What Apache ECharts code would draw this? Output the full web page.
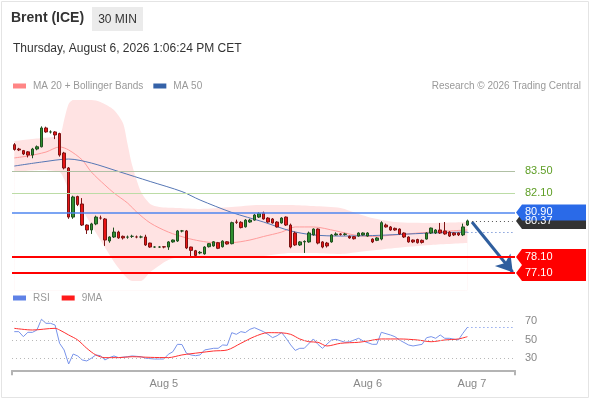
<!DOCTYPE html>
<html><head><meta charset="utf-8">
<script src="https://cdn.jsdelivr.net/npm/echarts/dist/echarts.min.js"></script>
<style>html,body{margin:0;padding:0;background:#fff}#c{width:590px;height:400px}</style>
</head><body><div id="c"></div>
<script>
// ---- data ----
const slotCount = 111;                       // 30-min slots on the x axis (incl. empty future slots)
const dateTicks = {33:'Aug 5', 78:'Aug 6', 101:'Aug 7'};
// [open, close, low, high]
const candles = [
[85.15,84.85,84.78,85.25],[84.88,84.82,84.75,84.95],[84.78,84.57,84.50,84.82],[84.70,84.50,84.35,84.75],
[84.50,84.88,84.30,84.95],[84.88,85.02,84.80,85.10],[85.02,86.20,84.98,86.30],[86.20,85.95,85.90,86.28],
[85.95,85.95,85.85,86.05],[85.95,85.76,85.50,86.00],[85.85,84.50,84.40,85.90],[84.63,83.69,83.60,84.70],
[83.69,80.61,80.50,83.75],[80.61,81.87,80.50,81.95],[81.90,81.40,81.30,81.95],[81.43,80.11,80.05,81.80],
[80.11,79.80,79.55,80.15],[79.80,80.18,79.55,80.25],[80.18,80.61,80.10,80.70],[80.55,80.55,80.45,80.70],
[80.49,79.17,78.80,80.55],[79.11,79.36,79.00,79.40],[79.36,79.67,79.30,79.95],[79.67,79.30,79.25,79.75],
[79.40,79.30,79.20,79.45],[79.35,79.35,79.25,79.45],[79.40,79.40,79.30,79.50],[79.36,79.36,79.28,79.45],
[79.36,79.36,79.28,79.45],[79.36,78.86,78.80,79.50],[78.98,78.73,78.68,79.00],[78.73,78.73,78.68,78.78],
[78.73,78.73,78.68,78.78],[78.75,78.73,78.65,78.78],[78.73,79.05,78.55,79.10],[79.05,79.17,79.00,79.20],
[79.11,79.74,79.05,79.80],[79.74,79.74,79.65,79.80],[79.74,78.67,78.60,79.80],[78.73,78.52,78.16,78.75],
[78.50,78.20,78.15,78.55],[78.36,78.40,78.28,78.48],[78.30,78.73,78.25,78.78],[78.75,78.94,78.70,78.98],
[78.80,79.06,78.75,79.10],[79.00,78.65,78.60,79.05],[78.75,79.10,78.70,79.15],[79.06,78.92,78.88,79.10],
[78.94,80.26,78.90,80.32],[80.30,80.28,80.18,80.45],[80.28,79.95,79.90,80.35],[80.00,80.42,79.95,80.48],
[80.30,80.42,80.25,80.50],[80.42,80.74,80.38,80.80],[80.61,80.83,80.55,80.92],[80.86,80.49,80.45,80.95],
[80.55,80.30,80.25,80.60],[80.49,80.24,80.20,80.55],[80.30,79.99,79.95,80.35],[80.24,80.55,80.20,80.60],
[80.61,80.11,80.05,80.65],[80.11,78.73,78.65,80.20],[79.61,78.86,78.80,79.70],[78.86,79.05,78.80,79.10],
[79.05,79.08,78.36,79.15],[79.05,79.61,79.00,79.70],[79.49,79.86,79.45,79.90],[79.86,78.98,78.90,79.90],
[79.05,78.73,78.65,79.10],[78.98,78.80,78.70,79.05],[79.05,79.49,79.00,79.55],[79.49,79.55,79.45,79.65],
[79.55,79.52,79.45,79.60],[79.52,79.55,79.45,79.62],[79.40,79.30,79.25,79.45],[79.38,79.25,79.20,79.42],
[79.42,79.61,79.38,79.65],[79.49,79.61,79.45,79.65],[79.42,79.61,79.38,79.66],[79.23,79.05,78.98,79.28],
[79.15,79.30,79.10,79.35],[79.23,80.26,79.15,80.35],[80.11,79.99,79.95,80.20],[79.99,79.80,79.75,80.05],
[79.90,79.80,79.75,79.95],[79.86,79.55,79.50,79.90],[79.61,79.36,79.30,79.65],[79.36,79.05,79.00,79.40],
[79.17,79.05,78.98,79.20],[79.20,79.00,78.95,79.25],[79.15,79.02,78.95,79.20],[79.23,79.61,79.20,79.65],
[79.61,79.92,79.55,79.95],[79.61,79.80,79.55,79.85],[79.80,79.61,79.55,80.24],[79.74,79.55,79.50,80.30],
[79.67,79.42,79.36,79.72],[79.61,79.49,79.42,79.65],[79.61,79.49,79.42,79.65],[79.49,79.99,79.42,80.20],
[80.11,80.37,80.05,80.45]
];
const ma20 = [[0,84.32],[3,84.44],[7,84.69],[10,85.01],[12,84.82],[15,84.19],[17,83.44],[20,82.62],[22,82.12],[25,81.49],[27,80.93],[30,80.24],[34,79.67],[38,79.30],[41,79.11],[44,79.01],[48,79.01],[52,79.17],[55,79.39],[59,79.67],[62,79.99],[66,79.99],[71,79.74],[75,79.49],[79,79.39],[84,79.49],[92,79.67],[100,79.80]];
const ma50 = [[0,83.81],[6,84.06],[12,84.25],[17,84.00],[23,83.47],[30,82.84],[37,82.21],[41,81.68],[48,80.90],[55,80.30],[61,79.74],[66,79.49],[72,79.42],[79,79.45],[85,79.52],[92,79.61],[100,79.67]];
const bbUpper = [[0,85.38],[6,85.57],[10,85.76],[11,86.70],[12,87.70],[13,87.95],[17,87.95],[19,87.83],[22,87.33],[24,86.50],[25,85.20],[26,83.88],[28,82.18],[30,81.43],[32,81.24],[36,81.18],[41,81.12],[48,81.24],[54,81.37],[61,81.37],[66,81.30],[72,81.18],[76,80.80],[79,80.55],[84,80.30],[92,80.24],[100,80.30]];
const bbLower = [[0,83.44],[6,83.56],[10,83.44],[11,83.00],[12,82.31],[13,81.68],[15,81.05],[19,79.17],[23,77.41],[26,76.60],[28,76.60],[30,77.16],[34,77.92],[38,78.17],[41,78.17],[48,78.04],[55,78.17],[61,78.36],[66,78.36],[72,78.30],[76,78.42],[84,78.67],[92,78.86],[100,78.98]];
const rsi = [[0,58.8],[1,58.8],[2,53.4],[3,58.1],[4,58.0],[5,60.6],[6,72.2],[7,67.8],[8,67.8],[9,66.0],[10,46.2],[11,39.0],[12,23.8],[13,34.6],[14,32.5],[15,28.2],[16,27.1],[17,30.0],[18,33.6],[19,32.8],[20,28.2],[21,30.7],[22,32.5],[23,30.7],[25,31.7],[26,32.5],[28,31.7],[29,30.0],[31,29.2],[32,29.2],[33,29.2],[34,34.3],[35,37.1],[36,45.1],[37,44.9],[38,35.4],[39,33.6],[40,32.8],[41,33.6],[42,39.0],[44,40.8],[45,40.8],[46,44.4],[47,44.0],[48,57.7],[49,55.9],[50,58.8],[51,57.8],[52,61.3],[53,63.1],[55,58.8],[56,55.9],[57,52.3],[58,54.4],[59,57.8],[60,51.6],[61,44.4],[62,38.5],[63,40.8],[64,40.8],[66,50.9],[67,45.1],[68,40.8],[70,49.8],[71,50.5],[73,47.3],[74,47.9],[76,51.6],[77,48.7],[79,45.1],[80,45.1],[81,58.1],[83,55.2],[84,53.4],[85,49.8],[87,44.4],[88,43.3],[90,45.1],[91,52.3],[92,53.4],[93,51.6],[94,55.2],[95,51.6],[96,51.6],[98,49.8],[99,57.0],[100,63.5]];
const rsiMA = [[0,62.4],[4,60.6],[9,62.4],[10,60.6],[12,55.2],[14,49.8],[16,40.8],[18,33.6],[20,30.7],[23,30.7],[26,31.7],[30,31.0],[34,30.7],[37,33.6],[41,36.1],[44,37.9],[47,39.0],[50,46.2],[53,53.4],[56,57.7],[59,57.5],[61,55.9],[63,50.9],[65,47.9],[67,47.3],[69,43.3],[72,46.2],[76,47.3],[78,48.7],[81,50.9],[85,50.9],[89,49.8],[92,47.9],[95,49.8],[98,50.9],[100,53.4]];
const levelsGreen = [83.50, 82.10];
const resistance = 80.90;
const lastPrice = 80.37;
const supports = [78.10, 77.10];
const rsiLevels = [70, 50, 30];
const arrowFrom = [101, 80.30], arrowTo = [110, 77.15];

// ---- layout ----
const FONT = "'Liberation Sans', Arial, sans-serif";
const GL = 12, GW = 503;
const categories = Array.from({length: slotCount}, (_, i) => String(i));
const lastIdx = candles.length - 1;
const lastMa50 = ma50[ma50.length - 1][1];
const lastRsi = rsi[rsi.length - 1][1];

const chart = echarts.init(document.getElementById('c'), null, {renderer: 'canvas'});
const option = {
  animation: false,
  textStyle: {fontFamily: FONT},
  grid: [
    {left: GL, width: GW, top: 91.3, height: 199.25, outerBoundsMode: 'none'},
    {left: GL, width: GW, top: 302.8, height: 67.5, outerBoundsMode: 'none'}
  ],
  legend: [
    {data: ['MA 20 + Bollinger Bands', 'MA 50'], left: 13, top: 81, padding: 0, icon: 'rect', itemWidth: 13, itemHeight: 5, itemGap: 10,
     selectedMode: false, textStyle: {color: '#999', fontSize: 10, fontFamily: FONT, padding: [0,0,0,2]}},
    {data: ['RSI', '9MA'], left: 13, top: 293, padding: 0, icon: 'rect', itemWidth: 13, itemHeight: 5, itemGap: 12,
     selectedMode: false, textStyle: {color: '#999', fontSize: 10, fontFamily: FONT, padding: [0,0,0,2]}}
  ],
  xAxis: [
    {type: 'category', gridIndex: 0, data: categories, boundaryGap: true, show: false},
    {type: 'category', gridIndex: 1, data: categories, boundaryGap: true,
     axisLine: {show: true, lineStyle: {color: '#b4b4b4', width: 2}},
     axisTick: {show: false},
     axisLabel: {interval: (i) => dateTicks[i] !== undefined, formatter: (v, i) => dateTicks[i] || '',
                 color: '#888', fontSize: 11, margin: 8, fontFamily: FONT}}
  ],
  yAxis: [
    {type: 'value', gridIndex: 0, min: 76, max: 88.5, show: false, splitLine: {show: false}},
    {type: 'value', gridIndex: 1, min: 17, max: 90, show: false, splitLine: {show: false}}
  ],
  series: [
    {name: 'BB upper', type: 'line', xAxisIndex: 0, yAxisIndex: 0, data: bbUpper, smooth: 0.25, symbol: 'none',
     lineStyle: {width: 0}, areaStyle: {color: '#ffe3e3', opacity: 1, origin: 'start'}, z: 1, silent: true},
    {name: 'BB lower', type: 'line', xAxisIndex: 0, yAxisIndex: 0, data: bbLower, smooth: 0.25, symbol: 'none',
     lineStyle: {width: 0}, areaStyle: {color: '#ffffff', opacity: 1, origin: 'start'}, z: 1, silent: true},
    {name: 'MA 20 + Bollinger Bands', type: 'line', xAxisIndex: 0, yAxisIndex: 0, data: ma20, smooth: 0.3, symbol: 'none',
     color: '#ff8585', lineStyle: {color: '#ff9c9c', width: 1}, z: 3},
    {name: 'MA 50', type: 'line', xAxisIndex: 0, yAxisIndex: 0, data: ma50, smooth: 0.3, symbol: 'none',
     color: '#3562a8', lineStyle: {color: '#5677b5', width: 1}, z: 3,
     markLine: {silent: true, animation: false, label: {show: false},
       data: [
         [{coord: [lastIdx, lastMa50], symbol: 'none', lineStyle: {color: '#4a72c8', width: 1, type: [1, 3]}},
          {coord: [slotCount - 1, lastMa50], symbol: 'none', lineStyle: {color: '#4a72c8', width: 1, type: [1, 3]}}],
         [{coord: arrowFrom, symbol: 'none', lineStyle: {color: '#2f5e9e', width: 3, type: 'solid'}},
          {coord: arrowTo, symbol: 'arrow', symbolSize: [15, 16], lineStyle: {color: '#2f5e9e', width: 3, type: 'solid'}}]
       ]}},
    {name: 'Price', type: 'candlestick', xAxisIndex: 0, yAxisIndex: 0, data: candles, barWidth: 3, z: 4,
     itemStyle: {color: '#2f8f2f', color0: '#e81414', borderColor: '#1f4f1f', borderColor0: '#7d1515', borderWidth: 1},
     markLine: {silent: true, animation: false, symbol: 'none',
       data: [
         ...levelsGreen.map((v, k) => ({yAxis: v, lineStyle: {color: k === 0 ? '#b0c0a4' : '#bcdca6', width: 1, type: 'solid'},
            label: {show: true, position: 'end', formatter: v.toFixed(2), color: '#5e9e25', fontSize: 11, distance: 10, fontFamily: FONT}})),
         {yAxis: resistance, lineStyle: {color: '#4f86ef', width: 1.5, type: 'solid'}, label: {show: false}},
         ...supports.map(v => ({yAxis: v, lineStyle: {color: '#ff0000', width: 2, type: 'solid'}, label: {show: false}})),
         [{coord: [lastIdx + 1, lastPrice], lineStyle: {color: '#555', width: 1, type: [1, 3]}, label: {show: false}},
          {coord: [slotCount - 1, lastPrice], lineStyle: {color: '#555', width: 1, type: [1, 3]}}]
       ]}},
    {name: 'RSI', type: 'line', xAxisIndex: 1, yAxisIndex: 1, data: rsi, symbol: 'none',
     color: '#5f82e6', lineStyle: {color: '#7893ea', width: 1}, z: 3,
     markLine: {silent: true, animation: false, symbol: 'none',
       data: [
         ...rsiLevels.map(v => ({yAxis: v, lineStyle: {color: '#b8b8b8', width: 1, type: [1, 3]},
            label: {show: true, position: 'end', formatter: String(v), color: '#888', fontSize: 11, distance: 10, fontFamily: FONT}})),
         [{coord: [lastIdx, lastRsi], lineStyle: {color: '#5f82e6', width: 1, type: [1, 3]}, label: {show: false}},
          {coord: [slotCount - 1, lastRsi], lineStyle: {color: '#5f82e6', width: 1, type: [1, 3]}}]
       ]}},
    {name: '9MA', type: 'line', xAxisIndex: 1, yAxisIndex: 1, data: rsiMA, smooth: 0.3, symbol: 'none',
     color: '#ff1a1a', lineStyle: {color: '#ff3030', width: 1}, z: 3}
  ]
};
chart.setOption(option);

// ---- decorations: header, frame, price tags (positions via the chart's own y scale) ----
const yPx = v => chart.convertToPixel({yAxisIndex: 0}, v);
const xR = GL + GW;
function tag(id, v, bg) {
  const y = yPx(v);
  return [
    {type: 'polygon', id: id + 'p', z: 10, shape: {points: [[xR + 1, y], [xR + 7, y - 8], [xR + 71, y - 8], [xR + 71, y + 8], [xR + 7, y + 8]]}, style: {fill: bg}},
    {type: 'text', id: id + 't', z: 11, style: {text: v.toFixed(2), x: xR + 10, y: y, fill: '#fff', font: '11px ' + FONT, textVerticalAlign: 'middle'}}
  ];
}
const axisY = chart.convertToPixel({yAxisIndex: 1}, 17);
const graphics = [
  {type: 'rect', id: 'frame', z: -1, shape: {x: 1.5, y: 1.5, width: 587, height: 396}, style: {fill: 'none', stroke: '#e4e4e4', lineWidth: 1}},
  {type: 'text', id: 'title', style: {text: 'Brent (ICE)', x: 11, y: 18.5, fill: '#333', font: 'bold 14px ' + FONT, textVerticalAlign: 'middle'}},
  {type: 'rect', id: 'tfbox', shape: {x: 92, y: 7, width: 51, height: 24}, style: {fill: '#ebebeb'}},
  {type: 'text', id: 'tf', style: {text: '30 MIN', x: 117.5, y: 19.5, fill: '#333', font: '12px ' + FONT, textAlign: 'center', textVerticalAlign: 'middle'}},
  {type: 'text', id: 'date', style: {text: 'Thursday, August 6, 2026 1:06:24 PM CET', x: 13, y: 48.5, fill: '#333', font: '12px ' + FONT, textVerticalAlign: 'middle'}},
  {type: 'text', id: 'copy', style: {text: 'Research \u00a9 2026 Trading Central', x: 581, y: 86.5, fill: '#999', font: '10px ' + FONT, textAlign: 'right', textVerticalAlign: 'middle'}},
  {type: 'line', id: 'tickL', shape: {x1: GL, y1: axisY, x2: GL, y2: axisY + 5}, style: {stroke: '#b4b4b4', lineWidth: 2}},
  {type: 'line', id: 'tickR', shape: {x1: xR, y1: axisY, x2: xR, y2: axisY + 5}, style: {stroke: '#b4b4b4', lineWidth: 2}},
  ...tag('tLast', lastPrice, '#333333'),
  ...tag('tRes', resistance, '#2a6ae8'),
  ...tag('tS1', supports[0], '#ff0000'),
  ...tag('tS2', supports[1], '#ff0000')
];
chart.setOption({graphic: graphics});
</script>
</body></html>
